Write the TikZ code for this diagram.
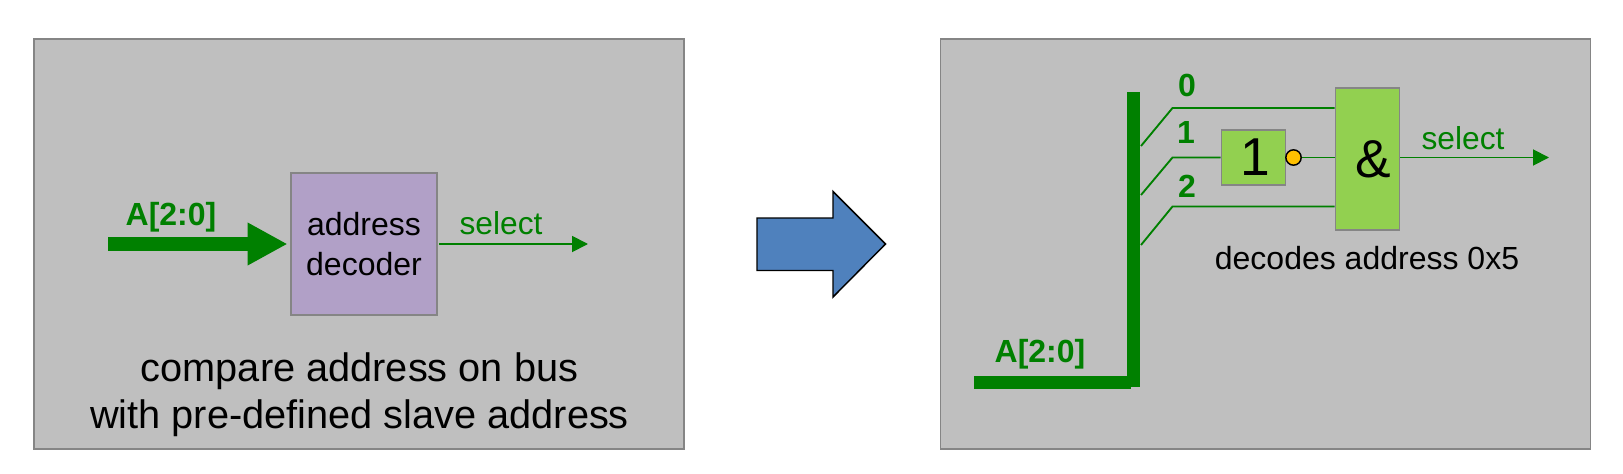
\documentclass[tikz,border=0pt]{standalone}
\usepackage{fontspec}
\setmainfont{Liberation Sans}
\usetikzlibrary{arrows.meta}
\definecolor{panelgray}{HTML}{BFBFBF}
\definecolor{edgegray}{HTML}{858585}
\definecolor{wiregreen}{HTML}{008000}
\definecolor{purplebox}{HTML}{B1A0C7}
\definecolor{gatefill}{HTML}{92D050}
\definecolor{bluearrow}{HTML}{4F81BD}
\definecolor{bubbleorange}{HTML}{FFC000}
\tikzset{
 panel/.style={draw=edgegray,fill=panelgray,line width=1.2pt},
 gatebox/.style={draw=edgegray,fill=gatefill,line width=1.2pt,inner sep=0pt,font=\fontsize{40}{44}\selectfont},
 wire/.style={draw=wiregreen,line width=1.4pt},
 bus/.style={draw=wiregreen,line width=10pt},
 sigtip/.style={-{Triangle[length=12pt,width=12pt]}},
 wlabel/.style={text=wiregreen,inner sep=0pt,font=\fontsize{23.8}{28}\selectfont},
 blabel/.style={text=wiregreen,inner sep=0pt,font=\fontsize{24}{28}\selectfont\bfseries},
}
\begin{document}
\begin{tikzpicture}[x=0.75pt,y=-0.75pt]
\useasboundingbox (0,0) rectangle (1623,474);
\fill[white] (0,0) rectangle (1623,474);
\draw[panel] (34,39) rectangle (684,449);
\draw[panel] (940.5,39) rectangle (1590.5,449);
% left
\node[draw=edgegray,fill=purplebox,line width=1.2pt,minimum width=109.5pt,minimum height=106.5pt,inner sep=0pt,align=center,font=\fontsize{24}{30}\selectfont] (dec) at (364,244) {\raisebox{-1pt}{address}\\\raisebox{-1pt}{decoder}};
\coordinate (busin) at (108,244);
\coordinate (selout) at (588,244);
\draw[bus,-{Triangle[length=30pt,width=30pt]},shorten >=2pt] (busin) -- (dec.west);
\draw[wire,sigtip,shorten <=1pt] (dec.east) -- (selout);
\node[blabel] (al) at (171,217) {A[2:0]};
\node[wlabel] (sl) at (501,223) {select};
\node[inner sep=0pt,align=center,font=\fontsize{29.8}{35.5}\selectfont] (cap) at (359.5,394.5) {compare address on bus\\with pre-defined slave address};
% arrow
\draw[black,fill=bluearrow,line width=1.1pt] (757,218) -- (833,218) -- (833,191.5) -- (885.5,244) -- (833,297) -- (833,270.5) -- (757,270.5) -- cycle;
% right
\coordinate (bt) at (1133.3,92);
\coordinate (bb) at (1133.3,387.3);
\coordinate (bl) at (974,382.7);
\coordinate (bj) at (1131,382.7);
\draw[bus] (bt) -- (bb);
\draw[bus] (bl) -- (bj);
\node[gatebox,minimum width=48pt,minimum height=106.5pt] (and) at (1367.5,159) {\hspace{8pt}\raisebox{-1pt}{\&}};
\node[gatebox,minimum width=48pt,minimum height=41.5pt] (not) at (1253.5,157.5) {\hspace{2pt}\raisebox{-1.5pt}{1}};
\node[circle,draw=black,fill=bubbleorange,line width=1.1pt,minimum size=11.5pt,inner sep=0pt] (bub) at (1293.5,157.5) {};
\coordinate (e0) at (1172.5,108);
\coordinate (e1) at (1172.5,157.5);
\coordinate (e2) at (1172.5,206.5);
\coordinate (s0) at (1141,146);
\coordinate (s1) at (1141,195);
\coordinate (s2) at (1141,245);
\coordinate (o1) at (1549,157.5);
\draw[wire] (s0) -- (e0) -- (and.west |- e0);
\draw[wire] (s1) -- (e1) -- (not.west);
\draw[wire] (s2) -- (e2) -- (and.west |- e2);
\draw[wire] (bub.east) -- (and.west |- bub);
\draw[wire,sigtip] (and.east |- bub) -- (o1);
\node[blabel] (l0) at (1187,85) {0};
\node[blabel] (l1) at (1186,132) {1};
\node[blabel] (l2) at (1187,186) {2};
\node[blabel] (a2) at (1040,354) {A[2:0]};
\node[wlabel] (s2l) at (1463,138) {select};
\node[inner sep=0pt,font=\fontsize{24}{28}\selectfont] (dc) at (1367,258) {decodes address 0x5};
\end{tikzpicture}
\end{document}
